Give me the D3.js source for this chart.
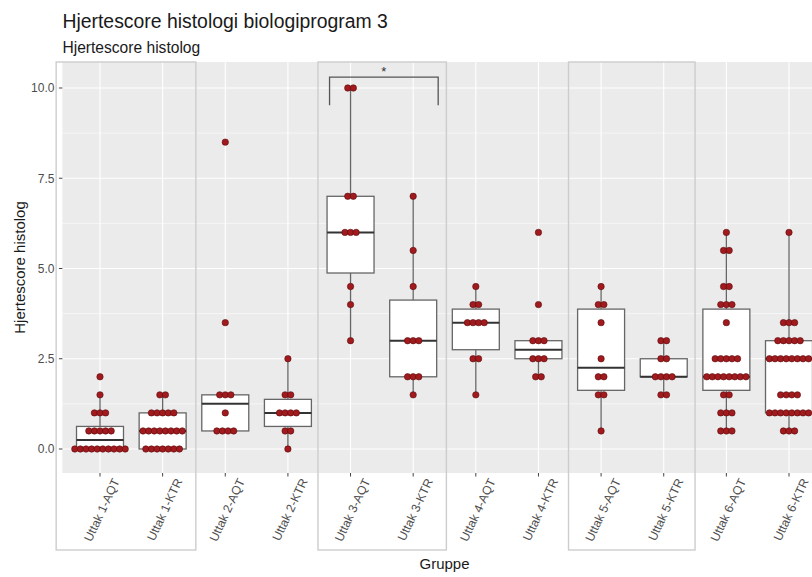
<!DOCTYPE html>
<html><head><meta charset="utf-8">
<script src="https://cdn.jsdelivr.net/npm/d3@7"></script>
<style>body{margin:0;background:#fff}svg{display:block;font-family:"Liberation Sans",Arial,sans-serif}</style>
</head><body><svg id="c" width="812" height="577"></svg>
<script>
const categories = ["Uttak 1-AQT","Uttak 1-KTR","Uttak 2-AQT","Uttak 2-KTR","Uttak 3-AQT","Uttak 3-KTR","Uttak 4-AQT","Uttak 4-KTR","Uttak 5-AQT","Uttak 5-KTR","Uttak 6-AQT","Uttak 6-KTR"];
const u1AQT = [0,0,0,0,0,0,0,0,0,0,0.5,0.5,0.5,0.5,0.5,1,1,1,1.5,2];
const u1KTR = [0,0,0,0,0,0,0,0.5,0.5,0.5,0.5,0.5,0.5,0.5,0.5,1,1,1,1,1,1.5,1.5];
const u2AQT = [0.5,0.5,0.5,0.5,1,1.5,1.5,1.5,3.5,8.5];
const u2KTR = [0,0.5,0.5,1,1,1,1,1.5,1.5,2.5];
const u3AQT = [3,4,4.5,6,6,6,7,7,10,10];
const u3KTR = [1.5,2,2,2,3,3,3,4.5,5.5,7];
const u4AQT = [1.5,2.5,2.5,3.5,3.5,3.5,3.5,4,4,4.5];
const u4KTR = [2,2,2.5,2.5,2.5,3,3,3,4,6];
const u5AQT = [0.5,1.5,1.5,2,2,2.5,3.5,4,4,4.5];
const u5KTR = [1.5,1.5,2,2,2,2,2.5,2.5,3,3];
const u6AQT = [0.5,0.5,0.5,1,1,1,1.5,1.5,2,2,2,2,2,2,2,2,2.5,2.5,2.5,2.5,2.5,3.5,4,4,4,4.5,4.5,5.5,5.5,6];
const u6KTR = [0.5,0.5,0.5,1,1,1,1,1,1,1,1,1.5,1.5,1.5,1.5,2.5,2.5,2.5,2.5,2.5,2.5,2.5,2.5,3,3,3,3,3,3.5,3.5,3.5,6];
const seriesValues = [u1AQT,u1KTR,u2AQT,u2KTR,u3AQT,u3KTR,u4AQT,u4KTR,u5AQT,u5KTR,u6AQT,u6KTR];
const yTicks = [0,2.5,5,7.5,10];
const yMinor = [1.25,3.75,6.25,8.75];
const sigPair = ["Uttak 3-AQT","Uttak 3-KTR"];
const sigLabel = "*";
const title = "Hjertescore histologi biologiprogram 3";
const subtitle = "Hjertescore histolog";
const xTitle = "Gruppe";
const yTitle = "Hjertescore histolog";

const svg = d3.select("#c");
const x = d3.scalePoint().domain(categories).range([100, 789]);
const step = x.step();
const y = d3.scaleLinear().domain([-0.665, 10.72]).range([473, 62]);
const panelL = x(categories[0]) - 0.6*step, panelR = x(categories[categories.length-1]) + 0.6*step;
const panelT = y(10.72), panelB = y(-0.665);

// panel
svg.append("rect").attr("x",panelL).attr("y",panelT).attr("width",panelR-panelL).attr("height",panelB-panelT).attr("fill","#ebebeb");
const grid = svg.append("g");
yMinor.forEach(v=>grid.append("line").attr("x1",panelL).attr("x2",panelR).attr("y1",y(v)).attr("y2",y(v)).attr("stroke","#fff").attr("stroke-width",0.55));
yTicks.forEach(v=>grid.append("line").attr("x1",panelL).attr("x2",panelR).attr("y1",y(v)).attr("y2",y(v)).attr("stroke","#fff").attr("stroke-width",1.1));
categories.forEach(c=>grid.append("line").attr("x1",x(c)).attr("x2",x(c)).attr("y1",panelT).attr("y2",panelB).attr("stroke","#fff").attr("stroke-width",1.1));

// highlight rectangles (1-based continuous category positions)
const xi = i => x(categories[0]) + (i-1)*step;
const rectBounds = [[0.3,2.53],[4.48,6.53],[8.48,10.5]];
rectBounds.forEach(([a,b])=>{
  svg.append("rect").attr("x",xi(a)).attr("y",panelT).attr("width",xi(b)-xi(a)).attr("height",550-panelT)
    .attr("fill","none").attr("stroke","#cdcdcd").attr("stroke-width",1.4);
});

// boxplots
const bw = 0.75*step;
categories.forEach((c,i)=>{
  const v = seriesValues[i].slice().sort(d3.ascending);
  const q1 = d3.quantile(v,0.25), med = d3.quantile(v,0.5), q3 = d3.quantile(v,0.75);
  const iqr = q3-q1;
  const lo = d3.min(v.filter(d=>d>=q1-1.5*iqr)), hi = d3.max(v.filter(d=>d<=q3+1.5*iqr));
  const g = svg.append("g");
  const cx = x(c);
  g.append("line").attr("x1",cx).attr("x2",cx).attr("y1",y(q3)).attr("y2",y(hi)).attr("stroke","#666").attr("stroke-width",1.3);
  g.append("line").attr("x1",cx).attr("x2",cx).attr("y1",y(q1)).attr("y2",y(lo)).attr("stroke","#666").attr("stroke-width",1.3);
  g.append("rect").attr("x",cx-bw/2).attr("y",y(q3)).attr("width",bw).attr("height",Math.max(0,y(q1)-y(q3)))
    .attr("fill","#fff").attr("stroke","#666").attr("stroke-width",1.3);
  g.append("line").attr("x1",cx-bw/2).attr("x2",cx+bw/2).attr("y1",y(med)).attr("y2",y(med)).attr("stroke","#333").attr("stroke-width",2);
});

// dots (centered stacks)
const sp = 5.6, r = 3.2;
categories.forEach((c,i)=>{
  const groups = d3.rollups(seriesValues[i], g=>g.length, d=>d);
  groups.forEach(([val,n])=>{
    for(let k=0;k<n;k++){
      svg.append("circle").attr("cx",x(c)+(k-(n-1)/2)*sp).attr("cy",y(val)).attr("r",r)
        .attr("fill","#a01a1e").attr("stroke","#5a0b0d").attr("stroke-width",0.6);
    }
  });
});

// significance bracket
const bx1 = x(sigPair[0]) - 21, bx2 = x(sigPair[1]) + 25, by = y(10.3), byd = y(9.52);
svg.append("path").attr("d",`M${bx1},${byd}V${by}H${bx2}V${byd}`).attr("fill","none").attr("stroke","#555").attr("stroke-width",1.3);
svg.append("text").attr("x",(bx1+bx2)/2).attr("y",by-1).attr("text-anchor","middle").attr("font-size",13).attr("fill","#333").text(sigLabel);

// y axis
const ya = svg.append("g");
yTicks.forEach(v=>{
  ya.append("line").attr("x1",panelL-3.5).attr("x2",panelL).attr("y1",y(v)).attr("y2",y(v)).attr("stroke","#444").attr("stroke-width",1);
  ya.append("text").attr("x",panelL-8).attr("y",y(v)).attr("dy","0.36em").attr("text-anchor","end").attr("font-size",12).attr("fill","#4d4d4d").text(d3.format(".1f")(v));
});
// x axis
const xa = svg.append("g");
categories.forEach(c=>{
  xa.append("line").attr("x1",x(c)).attr("x2",x(c)).attr("y1",panelB).attr("y2",panelB+3.5).attr("stroke","#444").attr("stroke-width",1);
  xa.append("text").attr("transform",`translate(${x(c)+20},${481}) rotate(-65)`).attr("text-anchor","end").attr("font-size",12.2).attr("fill","#4d4d4d").text(c);
});

// titles
svg.append("text").attr("x",panelL).attr("y",28).attr("font-size",19.4).attr("fill","#1a1a1a").text(title);
svg.append("text").attr("x",panelL).attr("y",53).attr("font-size",15.6).attr("fill","#1a1a1a").text(subtitle);
svg.append("text").attr("x",(panelL+panelR)/2).attr("y",569).attr("text-anchor","middle").attr("font-size",15).attr("fill","#1a1a1a").text(xTitle);
svg.append("text").attr("transform",`translate(25,${(panelT+panelB)/2}) rotate(-90)`).attr("text-anchor","middle").attr("font-size",15).attr("fill","#1a1a1a").text(yTitle);
</script></body></html>
